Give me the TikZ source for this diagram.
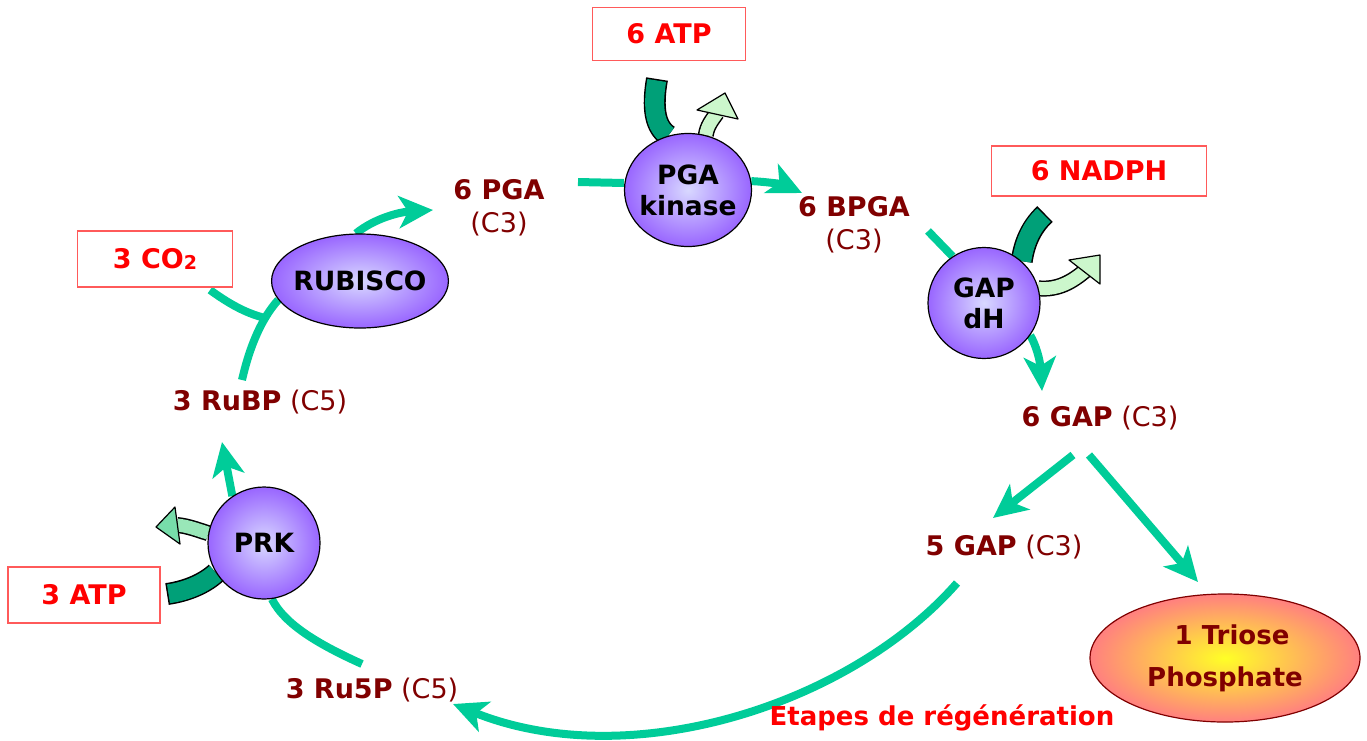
\documentclass[tikz,border=0pt]{standalone}
\usepackage{fontspec}
\setmainfont{DejaVu Sans}
\usetikzlibrary{arrows.meta,shapes.geometric,calc,backgrounds}
\definecolor{flowgreen}{HTML}{00CC99}
\definecolor{bandgreen}{HTML}{00A078}
\definecolor{lightgreen}{HTML}{CCF7CC}
\definecolor{midgreen}{HTML}{77DDAA}
\definecolor{metabred}{HTML}{800000}
\definecolor{boxred}{HTML}{FF5A5A}
\definecolor{enzin}{HTML}{D8D8FF}
\definecolor{enzout}{HTML}{9966FF}

\tikzset{
  enzyme/.style={ellipse, draw, line width=1.2pt, shading=radial, inner color=enzin, outer color=enzout,
    inner sep=-4pt, font=\fontsize{26.5}{31}\selectfont\bfseries, align=center},
  cofbox/.style={draw=boxred, line width=1.5pt, fill=white, text=red, inner sep=0pt,
    font=\fontsize{27}{30}\selectfont\bfseries},
  metab/.style={text=metabred, font=\fontsize{27}{33}\selectfont, align=center, inner sep=2pt},
  flow/.style={flowgreen, line width=8pt},
  flowarrow/.style={flow, -{Stealth[length=34pt, width=32pt, inset=9pt]}},
  bandout/.style={black, line width=22pt},
  bandin/.style={bandgreen, line width=19pt, shorten <=1.5pt},
  shaftout/.style={black, line width=16pt},
  shaftin/.style={line width=13pt},
  headtip/.style={draw=black, line width=1.2pt, line join=round},
}

\begin{document}
\begin{tikzpicture}[x=1pt, y=-1pt]
\useasboundingbox (0,0) rectangle (1367,740);

% enzymes
\node[enzyme, minimum width=176pt, minimum height=94pt] (rubisco) at (360,281) {RUBISCO};
\node[enzyme, minimum width=127pt, minimum height=113pt] (pgak) at (688,190) {PGA\\kinase};
\node[enzyme, minimum width=112pt, minimum height=111pt] (gapdh) at (984,303) {GAP\\dH};
\node[enzyme, minimum width=112pt, minimum height=112pt] (prk) at (264,543) {PRK};
\node[ellipse, draw=metabred, line width=1.2pt, shading=radial, inner color=yellow!85!white, outer color=red!50!white,
  minimum width=270pt, minimum height=128pt, text=metabred, align=center,
  font=\fontsize{26}{42}\selectfont\bfseries] (triose) at (1225,658) {\hspace*{14pt}1 Triose\\Phosphate};

% cofactors
\node[cofbox, minimum width=153pt, minimum height=53pt] (atp6) at (669,34) {6 ATP};
\node[cofbox, minimum width=215pt, minimum height=50pt] (nadph) at (1099,171) {6 NADPH};
\node[cofbox, minimum width=155pt, minimum height=56pt] (co2) at (155,259) {3 CO{\fontsize{19}{19}\selectfont\raisebox{-1pt}{2}}};
\node[cofbox, minimum width=152pt, minimum height=56pt] (atp3) at (84,595) {3 ATP};

% metabolites
\node[metab] (pga) at (499,208) {\textbf{6 PGA}\\(C3)};
\node[metab] (bpga) at (854,225) {\textbf{6 BPGA}\\(C3)};
\node[metab] (gap6) at (1100,418) {\textbf{6 GAP} (C3)};
\node[metab] (gap5) at (1004,547) {\textbf{5 GAP} (C3)};
\node[metab] (ru5p) at (372,690) {\textbf{3 Ru5P} (C5)};
\node[metab] (rubp) at (260,402) {\textbf{3 RuBP} (C5)};
\node[text=red, font=\fontsize{26}{30}\selectfont\bfseries] (regen) at (942,718) {Etapes de régénération};

\coordinate (jn) at (265,318);
\coordinate (atptop) at (657,79);
\coordinate (nadtop) at (1045,214);
\coordinate (prkend) at (167,594);

\begin{scope}[on background layer]
  % cycle
  \draw[flow] ($(ru5p)+(-10,-26)$) .. controls (320,645) and (285,625) .. (prk.-82);
  \draw[flowarrow] (prk.124) -- ($(rubp)+(-38,40)$);
  \draw[flow] ($(rubp)+(-18,-22)$) .. controls (250,345) and (262,318) .. (rubisco.-167);
  \draw[flow] ($(co2)+(55,31)$) .. controls (228,303) and (245,313) .. (jn);
  \draw[flowarrow] (rubisco.95) .. controls (375,218) and (400,212) .. ($(pga)+(-66,2)$);
  \draw[flow] ($(pga)+(79,-26)$) -- (pgak.west |- 0,183);
  \draw[flowarrow] (pgak.8) .. controls (770,182) and (785,185) .. ($(bpga)+(-52,-32)$);
  \draw[flow] ($(bpga)+(74,6)$) -- (gapdh.124);
  \draw[flowarrow] (gapdh.-35) .. controls (1036,345) and (1040,360) .. ($(gap6)+(-58,-27)$);
  \draw[flowarrow] ($(gap6)+(-27,37)$) -- ($(gap5)+(-11,-29)$);
  \draw[flowarrow] ($(gap6)+(-11,37)$) -- ($(triose)+(-27,-76)$);
  \draw[flowarrow] ($(gap5)+(-47,36)$) .. controls (850,705) and (630,775) .. ($(ru5p)+(81,14)$);

  % ATP on PGA kinase
  \draw[bandout] (atptop) .. controls (652,108) and (655,127) .. (pgak.110);
  \draw[bandin] (atptop) .. controls (652,108) and (655,127) .. (pgak.110);
  \draw[shaftout] (pgak.72) .. controls (707,126) and (712,120) .. (717,113);
  \draw[shaftin, lightgreen] (pgak.72) .. controls (707,126) and (712,120) .. (717,113);
  \filldraw[headtip, fill=lightgreen] (725,93) -- (697,110) -- (738,119) -- cycle;

  % NADPH on GAP dH
  \draw[bandout] (nadtop) .. controls (1030,228) and (1024,245) .. (gapdh.48);
  \draw[bandin] (nadtop) .. controls (1030,228) and (1024,245) .. (gapdh.48);
  \draw[shaftout] (gapdh.15) .. controls (1058,290) and (1072,282) .. (1086,270);
  \draw[shaftin, lightgreen] (gapdh.15) .. controls (1058,290) and (1072,282) .. (1086,270);
  \filldraw[headtip, fill=lightgreen] (1100,255) -- (1069,260) -- (1100,284) -- cycle;

  % ATP on PRK
  \draw[bandout] (prkend) .. controls (188,591) and (205,583) .. (prk.-148);
  \draw[bandin] (prkend) .. controls (188,591) and (205,583) .. (prk.-148);
  \draw[shaftout] (prk.170) .. controls (198,530) and (188,526) .. (177,525);
  \draw[shaftin, midgreen!60!lightgreen] (prk.170) .. controls (198,530) and (188,526) .. (177,525);
  \filldraw[headtip, fill=midgreen] (156,527) -- (175,507) -- (180,544) -- cycle;
\end{scope}
\end{tikzpicture}
\end{document}
